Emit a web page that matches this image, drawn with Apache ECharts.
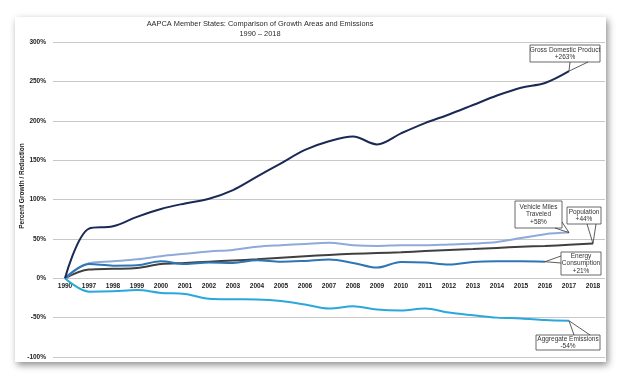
<!DOCTYPE html>
<html><head><meta charset="utf-8">
<script src="https://cdn.jsdelivr.net/npm/echarts@6/dist/echarts.min.js"></script>
<style>html,body{margin:0;padding:0;background:#fff}
#card{position:absolute;left:15px;top:17px;width:591px;height:345px;background:#fff;box-shadow:2px 3px 7px rgba(0,0,0,0.45)}
#c{position:absolute;left:0;top:0;width:622px;height:378px}</style>
</head><body><div id="card"></div><div id="c"></div>
<script>
const years = ['1990','1997','1998','1999','2000','2001','2002','2003','2004','2005','2006','2007','2008','2009','2010','2011','2012','2013','2014','2015','2016','2017','2018'];
const gdp        = [0,63,66,78,88,95,101,112,129,146,163,174,180,170,184,197,208,220,232,242,248,263,null];
const vmt        = [0,19,21.5,24,28,31,34,36,40,42,43.6,45,42,41,42,42,43,44,46,51,56,58,null];
const population = [0,11,12,13,18,19.5,21,22.5,24,26,28,29.6,31,32,33,34.5,36,37,38.5,40,41,42.5,44];
const energy     = [0,18,16,16.5,21.6,18,20,19.5,23,21,22,23.7,19.5,13.5,20.7,20,17.4,20.7,21.5,21.5,21,null,null];
const emissions  = [0,-17,-16.5,-15,-18.6,-20,-26,-26.7,-27,-29,-33.4,-38.5,-35.6,-39.8,-41,-38.5,-43.6,-47,-50,-51,-53,-54,null];
const yTicks = {min:-100, max:300, step:50};

const chart = echarts.init(document.getElementById('c'), null, {renderer:'canvas'});
const FONT = 'Liberation Sans, Arial, sans-serif';
const GRID = {left:53, right:17, top:42, bottom:21};
const plotH = 378 - GRID.top - GRID.bottom;
const zeroOffset = -plotH * (0 - yTicks.min) / (yTicks.max - yTicks.min);
function mk(name, data, color){
  return {name, type:'line', data, smooth:0.35, symbol:'none', lineStyle:{color, width:2}, itemStyle:{color}};
}
chart.setOption({
  animation:false,
  backgroundColor:'transparent',
  grid:GRID,
  xAxis:{type:'category', data:years, boundaryGap:true, position:'bottom', offset:zeroOffset,
    axisLine:{show:false, onZero:false}, axisTick:{show:false}, splitLine:{show:false},
    axisLabel:{fontFamily:FONT, fontSize:6.5, fontWeight:'bold', color:'#222', margin:4, interval:0}},
  yAxis:{type:'value', min:yTicks.min, max:yTicks.max, interval:yTicks.step,
    axisLine:{show:false}, axisTick:{show:false},
    splitLine:{show:true, lineStyle:{color:'#c8c8c8', width:1, type:'solid'}},
    axisLabel:{fontFamily:FONT, fontSize:6.5, fontWeight:'bold', color:'#222', margin:7, formatter:v=>v+'%'}},
  series:[
    mk('Population', population, '#404040'),
    mk('Vehicle Miles Traveled', vmt, '#8eaadb'),
    mk('Energy Consumption', energy, '#2e75b6'),
    mk('Aggregate Emissions', emissions, '#2aa8dc'),
    mk('Gross Domestic Product', gdp, '#1b2a55')
  ]
});

function tip(idx, arr){ return chart.convertToPixel({gridIndex:0}, [idx, arr[idx]]); }
const callouts = [
  {box:[530,45,70,17], lines:['Gross Domestic Product','+263%'], base:[[570,62],[588,62]], tip:tip(21,gdp)},
  {box:[515,201,47,27], lines:['Vehicle Miles','Traveled','+58%'], base:[[555,228],[562,222]], tip:tip(21,vmt)},
  {box:[567,207,34,17], lines:['Population','+44%'], base:[[587,224],[596,224]], tip:tip(22,population)},
  {box:[561,252,40,23], lines:['Energy','Consumption','+21%'], base:[[561,256],[561,263]], tip:tip(20,energy)},
  {box:[536,335,64,15], lines:['Aggregate Emissions','-54%'], base:[[574,335],[590,335]], tip:tip(21,emissions)}
];
const g = [
  {type:'text', z:10, style:{text:'AAPCA Member States: Comparison of Growth Areas and Emissions\n1990 – 2018',
    x:260, y:19, textAlign:'center', font:'7.4px '+FONT, fill:'#2a2a2a', lineHeight:10}},
  {type:'text', z:10, rotation:Math.PI/2, x:22, y:186,
   style:{text:'Percent Growth / Reduction', textAlign:'center', textVerticalAlign:'middle', font:'bold 6.5px '+FONT, fill:'#222'}}
];
callouts.forEach(c=>{
  const [x,y,w,h]=c.box;
  g.push({type:'rect', z:20, shape:{x,y,width:w,height:h}, style:{fill:'#fff', stroke:'#444', lineWidth:0.8}});
  g.push({type:'polyline', z:21, shape:{points:[c.base[0], c.tip, c.base[1]]}, style:{fill:null, stroke:'#333', lineWidth:0.8}});
  g.push({type:'text', z:22, style:{text:c.lines.join('\n'), x:x+w/2, y:y+h/2, textAlign:'center', textVerticalAlign:'middle',
    font:'6.5px '+FONT, fill:'#333', lineHeight:7.5}});
});
chart.setOption({graphic:g});
</script></body></html>
